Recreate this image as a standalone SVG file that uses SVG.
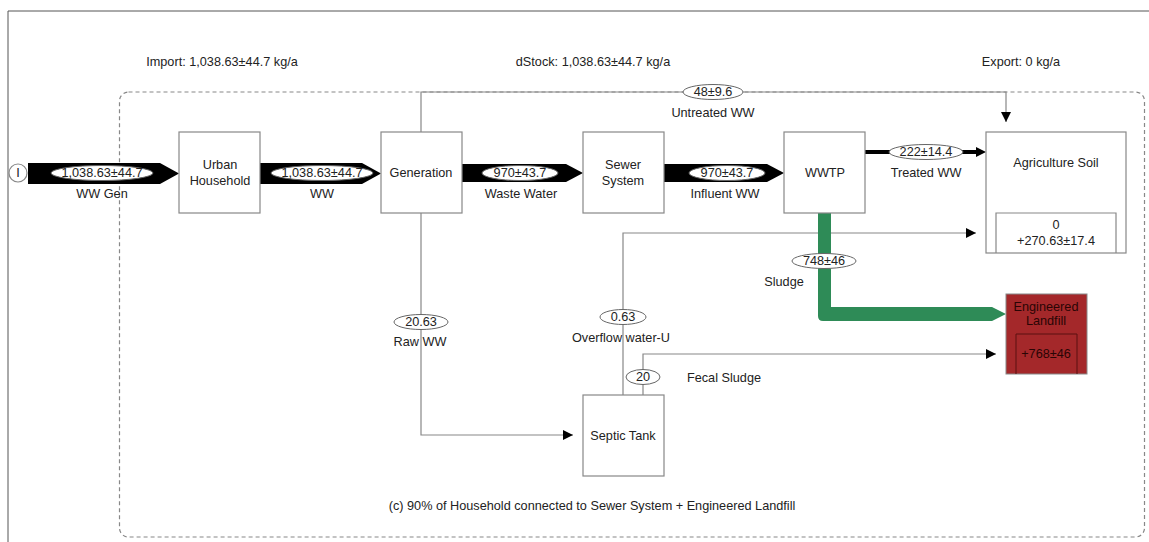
<svg xmlns="http://www.w3.org/2000/svg" width="1149" height="542" viewBox="0 0 1149 542">
<defs>
<marker id="ah" markerWidth="10" markerHeight="10" refX="10" refY="5" orient="auto" markerUnits="userSpaceOnUse">
<path d="M0,0 L10,5 L0,10 Z" fill="#000"/>
</marker>
<style>
text{font-family:"Liberation Sans",Arial,sans-serif;font-size:12.7px;fill:#222;text-anchor:middle;dominant-baseline:central}
.box{fill:#fff;stroke:#888;stroke-width:1.2}
.thin{fill:none;stroke:#888;stroke-width:1.2}
.lbl{fill:#fff;stroke:#666;stroke-width:1}
.blk{fill:#000}
.dk{fill:#2a0505}
</style>
</defs>
<rect width="1149" height="542" fill="#fff"/>
<path d="M8,542 L8,11 L1149,11" fill="none" stroke="#555" stroke-width="1"/>
<rect x="119.5" y="92" width="1025" height="445" rx="9" fill="none" stroke="#888" stroke-width="1.2" stroke-dasharray="4,3"/>

<g id="summary">
<text x="222" y="62">Import: 1,038.63±44.7 kg/a</text>
<text x="593" y="62">dStock: 1,038.63±44.7 kg/a</text>
<text x="1021" y="62">Export: 0 kg/a</text>
<text x="592" y="506">(c) 90% of Household connected to Sewer System + Engineered Landfill</text>
</g>

<g id="connectors">
<path class="thin" d="M421,132 V92 H1006 V122" marker-end="url(#ah)"/>
<path class="thin" d="M421,213 V435 H573" marker-end="url(#ah)"/>
<path class="thin" d="M623,395 V233 H976" marker-end="url(#ah)"/>
<path class="thin" d="M643,395 V354 H996" marker-end="url(#ah)"/>
<path d="M865,152 H977" fill="none" stroke="#000" stroke-width="4"/>
<path d="M976,147 L986,152 L976,157 Z" fill="#000"/>
<path d="M818,213 V316 Q818,321 823,321 H992 L1006,314 L992,307 H831 V213 Z" fill="#2e8b57"/>
<polygon class="blk" points="28,163 160,163 179,173.5 160,184 28,184"/>
<polygon class="blk" points="260,163 362,163 381,173.5 362,184 260,184"/>
<polygon class="blk" points="462,164 566,164 583,173 566,182 462,182"/>
<polygon class="blk" points="664,164 767,164 784,173 767,182 664,182"/>

<g id="flow-labels">
<ellipse class="lbl" cx="102" cy="173" rx="51" ry="7.5"/>
<text x="102" y="173">1,038.63±44.7</text>
<text x="102" y="194">WW Gen</text>
<ellipse class="lbl" cx="322" cy="173" rx="51" ry="7.5"/>
<text x="322" y="173">1,038.63±44.7</text>
<text x="322" y="194">WW</text>
<ellipse class="lbl" cx="520" cy="173" rx="38" ry="7.5"/>
<text x="520" y="173">970±43.7</text>
<text x="521" y="194">Waste Water</text>
<ellipse class="lbl" cx="727" cy="173" rx="38" ry="7.5"/>
<text x="727" y="173">970±43.7</text>
<text x="725" y="194">Influent WW</text>
<ellipse class="lbl" cx="926" cy="152" rx="37" ry="7.5"/>
<text x="926" y="152">222±14.4</text>
<text x="926" y="173">Treated WW</text>
<ellipse class="lbl" cx="713" cy="92" rx="30" ry="7.5"/>
<text x="713" y="92">48±9.6</text>
<text x="713" y="113">Untreated WW</text>
<ellipse class="lbl" cx="824" cy="261" rx="32" ry="7.5"/>
<text x="824" y="261">748±46</text>
<text x="784" y="282">Sludge</text>
<ellipse class="lbl" cx="421" cy="322" rx="27" ry="7.5"/>
<text x="421" y="322">20.63</text>
<text x="420" y="342">Raw WW</text>
<ellipse class="lbl" cx="623" cy="317" rx="23" ry="7.5"/>
<text x="623" y="317">0.63</text>
<text x="621" y="338">Overflow water-U</text>
<ellipse class="lbl" cx="643" cy="377" rx="17" ry="7.5"/>
<text x="643" y="377">20</text>
<text x="724" y="378">Fecal Sludge</text>
</g>
</g>

<g id="node-import">
<circle cx="18" cy="173" r="9" fill="#fff" stroke="#888" stroke-width="1.2"/>
<text x="18" y="173">I</text>
</g>
<g id="node-urban-household">
<rect class="box" x="179" y="132" width="81" height="81"/>
<text x="220" y="165">Urban</text>
<text x="220" y="181">Household</text>
</g>
<g id="node-generation">
<rect class="box" x="381" y="132" width="81" height="81"/>
<text x="421" y="173">Generation</text>
</g>
<g id="node-sewer-system">
<rect class="box" x="583" y="132" width="81" height="81"/>
<text x="623" y="165">Sewer</text>
<text x="623" y="181">System</text>
</g>
<g id="node-wwtp">
<rect class="box" x="784" y="132" width="81" height="81"/>
<text x="825" y="173">WWTP</text>
</g>
<g id="node-agriculture-soil">
<rect class="box" x="986" y="132" width="140" height="121"/>
<text x="1056" y="163">Agriculture Soil</text>
<path d="M996,253 V213 H1116 V253" fill="none" stroke="#888" stroke-width="1.2"/>
<text x="1056" y="225">0</text>
<text x="1056" y="241">+270.63±17.4</text>
</g>
<g id="node-engineered-landfill">
<rect x="1006" y="294" width="81" height="80" fill="#a4282a" stroke="#888" stroke-width="1"/>
<text class="dk" x="1046" y="307">Engineered</text>
<text class="dk" x="1046" y="321">Landfill</text>
<path d="M1016,374 V334 H1077 V374" fill="none" stroke="#5a1010" stroke-width="1"/>
<text class="dk" x="1046" y="354">+768±46</text>
</g>
<g id="node-septic-tank">
<rect class="box" x="583" y="395" width="81" height="81"/>
<text x="623" y="436">Septic Tank</text>
</g>
</svg>
